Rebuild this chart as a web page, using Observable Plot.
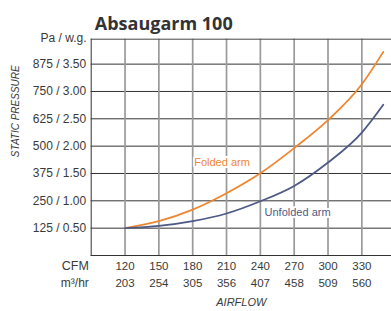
<!DOCTYPE html>
<html>
<head>
<meta charset="utf-8">
<script src="https://cdn.jsdelivr.net/npm/d3@7"></script>
<script src="https://cdn.jsdelivr.net/npm/@observablehq/plot@0.6"></script>
<style>
  html, body { margin: 0; padding: 0; background: white; }
</style>
</head>
<body>
<div id="chart"></div>
<script>
// ---- data ----
const title = "Absaugarm 100";
const cfm = [120, 150, 180, 210, 240, 270, 300, 330, 349];
const folded = [125, 157, 210, 285, 376, 491, 619, 783, 931];
const unfolded = [125, 135, 157, 192, 248, 318, 425, 562, 689];
const cfmTicks = [120, 150, 180, 210, 240, 270, 300, 330];
const m3hrTicks = [203, 254, 305, 356, 407, 458, 509, 560];
const paTicks = [125, 250, 375, 500, 625, 750, 875];
const wgTicks = ["0.50", "1.00", "1.50", "2.00", "2.50", "3.00", "3.50"];
const seriesNames = ["Folded arm", "Unfolded arm"];
const labelX = [206, 273];
const labelY = [425, 195];
const xDomain = [90, 356.3];
const yDomain = [0, 989];

const ORANGE = "#EF8630";
const BLUE = "#4E5A86";
const TXT = "#3a3a3a";

const foldedRows = cfm.map((c, i) => ({cfm: c, pa: folded[i]}));
const unfoldedRows = cfm.map((c, i) => ({cfm: c, pa: unfolded[i]}));
const yLabels = paTicks.map((p, i) => ({pa: p, label: `${p} / ${wgTicks[i]}`}));
const xLabels = cfmTicks.map((c, i) => ({cfm: c, m3: String(m3hrTicks[i])}));

const chart = Plot.plot({
  width: 391,
  height: 311,
  marginLeft: 90.7,
  marginRight: 0,
  marginTop: 38.7,
  marginBottom: 56,
  x: {domain: xDomain, axis: null},
  y: {domain: yDomain, axis: null},
  style: {fontFamily: "'Liberation Sans', Arial, sans-serif", fontSize: "12px", background: "white", overflow: "visible"},
  marks: [
    Plot.gridY(paTicks, {stroke: "#333", strokeOpacity: 1, strokeWidth: 1}),
    Plot.gridX(cfmTicks, {stroke: "#9a9a9a", strokeOpacity: 1, strokeWidth: 1.7}),
    Plot.frame({anchor: "left", stroke: "#333"}),
    Plot.frame({anchor: "bottom", stroke: "#333"}),
    Plot.frame({anchor: "top", stroke: "#444"}),
    Plot.line(foldedRows, {x: "cfm", y: "pa", stroke: ORANGE, strokeWidth: 1.8, curve: "monotone-x"}),
    Plot.line(unfoldedRows, {x: "cfm", y: "pa", stroke: BLUE, strokeWidth: 1.8, curve: "monotone-x"}),
    Plot.text([{x: labelX[0], y: labelY[0], t: seriesNames[0]}], {x: "x", y: "y", text: "t", fill: ORANGE, stroke: "white", strokeWidth: 4, fontSize: 11}),
    Plot.text([{x: labelX[1], y: labelY[1], t: seriesNames[1]}], {x: "x", y: "y", text: "t", fill: BLUE, stroke: "white", strokeWidth: 4, fontSize: 11}),
    Plot.text(yLabels, {y: "pa", text: "label", frameAnchor: "left", dx: -5, textAnchor: "end", fill: TXT, fontSize: 12}),
    Plot.text(["Pa / w.g."], {frameAnchor: "top-left", dx: -4.7, dy: -6, textAnchor: "end", fill: TXT, fontSize: 12}),
    Plot.text(["STATIC PRESSURE"], {frameAnchor: "left", dx: -75.7, dy: 9.8, rotate: -90, fill: TXT, fontSize: 10, fontStyle: "italic"}),
    Plot.text(xLabels, {x: "cfm", text: d => String(d.cfm), frameAnchor: "bottom", dy: 14.3, fill: TXT, fontSize: 11.5}),
    Plot.text(xLabels, {x: "cfm", text: "m3", frameAnchor: "bottom", dy: 31.7, fill: TXT, fontSize: 11.5}),
    Plot.text(["CFM"], {frameAnchor: "bottom-left", dx: -2.4, dy: 14.3, textAnchor: "end", fill: TXT, fontSize: 12.5}),
    Plot.text(["m³/hr"], {frameAnchor: "bottom-left", dx: -2.4, dy: 31.7, textAnchor: "end", fill: TXT, fontSize: 12}),
    Plot.text(["AIRFLOW"], {frameAnchor: "bottom", dy: 50, fill: TXT, fontSize: 11, fontStyle: "italic"}),
    Plot.text([title], {frameAnchor: "top-left", dx: 3.6, dy: -21.8, textAnchor: "start", fill: "#333", fontSize: 18, fontWeight: "bold", fontFamily: "'Open Sans', sans-serif"})
  ]
});
document.getElementById("chart").appendChild(chart);
</script>
</body>
</html>
